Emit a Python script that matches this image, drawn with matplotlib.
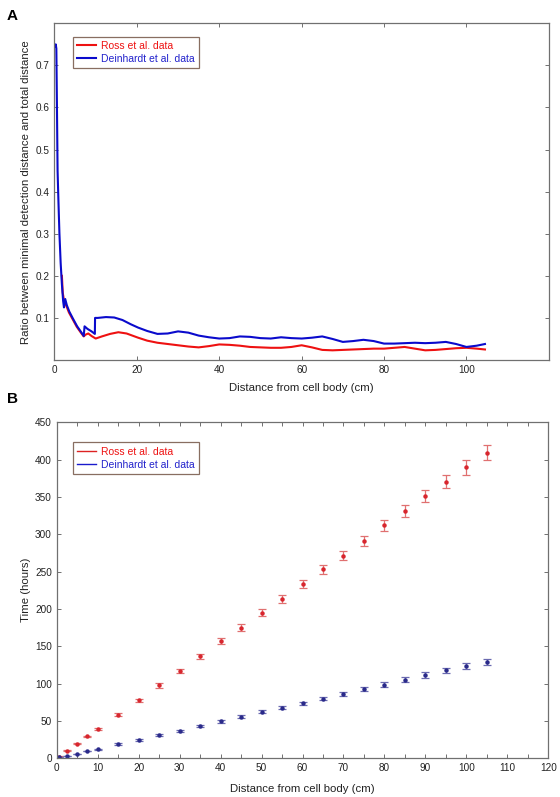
import matplotlib
matplotlib.use("Agg")
import matplotlib.pyplot as plt
from matplotlib.ticker import MultipleLocator
from matplotlib.lines import Line2D

plt.rcParams['font.family'] = ['Liberation Sans', 'DejaVu Sans']

# ---------------- Panel A data ----------------
blue_a_x = [0.2, 0.3, 0.45, 0.6, 0.75, 0.95, 1.2, 1.5, 1.8, 2.1, 2.3, 2.6, 3.0, 3.6, 4.5, 5.5, 6.5,
            7.1, 7.3, 8.0, 9.0, 9.8, 9.85, 10.5, 12.5, 14.5, 16.5, 18.5, 20.3, 22.5, 25, 27.5, 30,
            32.5, 35, 37.5, 40, 42.5, 45, 47.5, 50, 52.5, 55, 57.5, 60, 62.5, 65, 67.5, 70, 72.5,
            75, 77.5, 80, 82.5, 85, 87.5, 90, 92.5, 95, 97.5, 100, 102.5, 104.5]
blue_a_y = [0.745, 0.75, 0.74, 0.6, 0.45, 0.38, 0.3, 0.23, 0.18, 0.14, 0.125, 0.145, 0.13, 0.115,
            0.098, 0.08, 0.066, 0.057, 0.08, 0.074, 0.068, 0.062, 0.1, 0.1, 0.102, 0.101, 0.095,
            0.085, 0.077, 0.069, 0.062, 0.063, 0.068, 0.065, 0.058, 0.054, 0.051, 0.052, 0.056,
            0.055, 0.052, 0.051, 0.054, 0.052, 0.051, 0.053, 0.056, 0.05, 0.043, 0.045, 0.048,
            0.045, 0.039, 0.039, 0.040, 0.041, 0.040, 0.041, 0.043, 0.038, 0.031, 0.034, 0.038]

red_a_x = [1.8, 1.9, 2.0, 2.3, 2.9, 3.5, 4.4, 5.4, 6.4, 7.1, 7.5, 8.2, 9.0, 10.0, 11.5, 13.5, 15.5,
           17.5, 20.3, 22.5, 25, 27.5, 30, 32.5, 35, 37.5, 40, 42.5, 45, 47.5, 50, 52.5, 55, 57.5,
           60, 62.5, 65, 67.5, 70, 72.5, 75, 77.5, 80, 82.5, 85, 87.5, 90, 92.5, 95, 97.5, 100,
           102.5, 104.5]
red_a_y = [0.2, 0.18, 0.16, 0.142, 0.128, 0.113, 0.097, 0.079, 0.065, 0.056, 0.06, 0.063, 0.057,
           0.051, 0.056, 0.062, 0.066, 0.063, 0.053, 0.046, 0.041, 0.038, 0.035, 0.032, 0.030,
           0.033, 0.037, 0.036, 0.034, 0.031, 0.030, 0.029, 0.029, 0.031, 0.035, 0.030, 0.024,
           0.023, 0.024, 0.025, 0.026, 0.027, 0.027, 0.029, 0.031, 0.027, 0.023, 0.024, 0.026,
           0.028, 0.029, 0.027, 0.025]

# ---------------- Panel B data ----------------
dist_b = [0.5, 2.5, 5, 7.5, 10, 15, 20, 25, 30, 35, 40, 45, 50, 55, 60, 65, 70, 75, 80, 85,
          90, 95, 100, 105]
ross_time = [2, 10, 19.5, 29.5, 39, 58.5, 77.5, 97.5, 117, 136.5, 156.5, 175, 195, 213.5, 233,
             253, 271.5, 291.5, 312, 331, 351, 370.5, 389.5, 409.5]
ross_err = [0.5, 0.5, 0.5, 0.5, 1.5, 1.5, 2, 3, 3, 3.5, 4, 4.5, 5, 5, 5.5, 5.5, 6, 6.5, 7, 8,
            8, 8.5, 10, 10]
dein_time = [1.5, 3, 6, 9.5, 12, 18.8, 24.6, 30.8, 37, 43.3, 49.5, 55.5, 62, 68, 74, 80, 86.5,
             93, 98.8, 105.5, 111.5, 118, 123.5, 129]
dein_err = [0.3, 0.3, 0.3, 0.3, 1, 1, 1, 1.2, 1.5, 1.5, 1.8, 2, 2, 2, 2, 2.2, 2.5, 2.5, 3, 3,
            3.5, 3.5, 4, 4]

legend_labels = ["Ross et al. data", "Deinhardt et al. data"]

RED = "#ee1111"
BLUE = "#0a0acc"
SPINE = "#707070"
TXT = "#222222"

fig = plt.figure(figsize=(5.6, 7.97), dpi=100)

def style_axes(ax):
    for s in ax.spines.values():
        s.set_color(SPINE)
        s.set_linewidth(0.9)
    ax.tick_params(which='both', direction='in', top=True, right=True, color=SPINE,
                   labelsize=7.2, labelcolor=TXT, length=3, width=0.7)

# Panel A
axA = fig.add_axes([0.0973, 0.5483, 0.8827, 0.4225])
axA.plot(red_a_x, red_a_y, color=RED, lw=1.5)
axA.plot(blue_a_x, blue_a_y, color=BLUE, lw=1.5)
axA.set_xlim(0, 120)
axA.set_ylim(0, 0.8)
axA.set_xticks([0, 20, 40, 60, 80, 100])
axA.set_yticks([0.1, 0.2, 0.3, 0.4, 0.5, 0.6, 0.7])
axA.set_yticklabels(["0.1", "0.2", "0.3", "0.4", "0.5", "0.6", "0.7"])
style_axes(axA)
axA.set_xlabel("Distance from cell body (cm)", fontsize=8.2, color=TXT, labelpad=6)
axA.set_ylabel("Ratio between minimal detection distance and total distance", fontsize=8.2,
               color=TXT, labelpad=3)
handlesA = [Line2D([0], [0], color=RED, lw=1.5), Line2D([0], [0], color=BLUE, lw=1.5)]
legA = axA.legend(handlesA, legend_labels, loc='upper left', bbox_to_anchor=(0.037, 0.96),
                  fontsize=7.5, frameon=True, fancybox=False, handlelength=1.8,
                  borderpad=0.4, labelspacing=0.3, handletextpad=0.5, borderaxespad=0)
legA.get_frame().set_edgecolor("#6b4a3a")
legA.get_frame().set_linewidth(0.9)
for t, c in zip(legA.get_texts(), [RED, "#2222cc"]):
    t.set_color(c)

# Panel B
axB = fig.add_axes([0.1013, 0.0486, 0.8778, 0.4215])
axB.errorbar(dist_b, ross_time, yerr=ross_err, fmt='o', ms=2.2, color="#d8262e",
             ecolor="#e07070", elinewidth=0.9, capsize=3, capthick=0.9)
axB.errorbar(dist_b, dein_time, yerr=dein_err, fmt='o', ms=2.2, color="#2a2a8a",
             ecolor="#6a6ab0", elinewidth=0.9, capsize=3, capthick=0.9)
axB.set_xlim(0, 120)
axB.set_ylim(0, 450)
axB.xaxis.set_major_locator(MultipleLocator(10))
axB.xaxis.set_minor_locator(MultipleLocator(5))
axB.yaxis.set_major_locator(MultipleLocator(50))
style_axes(axB)
axB.set_xlabel("Distance from cell body (cm)", fontsize=8.2, color=TXT, labelpad=8)
axB.set_ylabel("Time (hours)", fontsize=8.2, color=TXT, labelpad=3)
handlesB = [Line2D([0], [0], color="#dd2222", lw=1.0), Line2D([0], [0], color="#1a1acc", lw=1.0)]
legB = axB.legend(handlesB, legend_labels, loc='upper left', bbox_to_anchor=(0.033, 0.94),
                  fontsize=7.5, frameon=True, fancybox=False, handlelength=1.8,
                  borderpad=0.4, labelspacing=0.3, handletextpad=0.5, borderaxespad=0)
legB.get_frame().set_edgecolor("#6b4a3a")
legB.get_frame().set_linewidth(0.9)
for t, c in zip(legB.get_texts(), [RED, "#2222cc"]):
    t.set_color(c)

fig.text(0.012, 0.989, "A", fontsize=11, fontweight='bold', va='top', ha='left')
fig.text(0.012, 0.508, "B", fontsize=11, fontweight='bold', va='top', ha='left')

fig.savefig("out.png", dpi=100)
